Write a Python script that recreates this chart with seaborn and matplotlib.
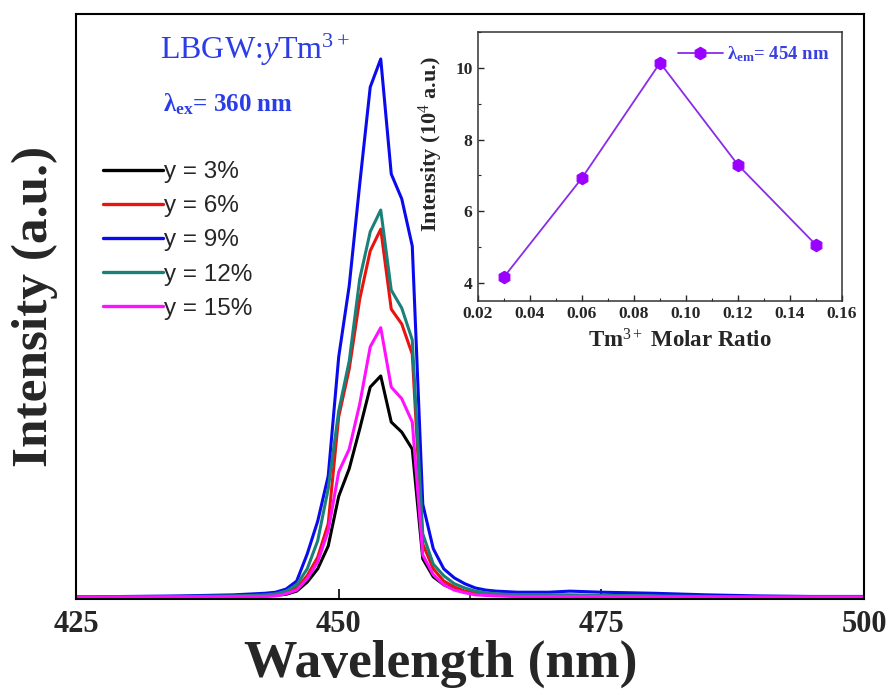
import numpy as np
import pandas as pd
import matplotlib
matplotlib.use("Agg")
import matplotlib.pyplot as plt
from matplotlib.ticker import MultipleLocator
import seaborn as sns

# ---------------- data ----------------
wavelength = [425, 430, 435, 440, 442, 443, 444, 445, 446, 447, 448, 449, 450,
              451, 452, 453, 454, 455, 456, 457, 458, 459, 460, 461, 462, 463,
              464, 465, 467, 470, 472, 475, 480, 485, 490, 495, 500]
int_3 = [0, 0, 0, 0.01, 0.01, 0.02, 0.03, 0.05, 0.11, 0.28, 0.53, 0.96, 1.90,
         2.42, 3.17, 3.96, 4.17, 3.30, 3.11, 2.79, 0.72, 0.38, 0.23, 0.15, 0.09,
         0.06, 0.04, 0.03, 0.02, 0.02, 0.02, 0.01, 0.01, 0, 0, 0, 0]
int_6 = [0, 0, 0.01, 0.01, 0.02, 0.03, 0.04, 0.08, 0.17, 0.40, 0.75, 1.38, 3.40,
         4.30, 5.62, 6.53, 6.94, 5.43, 5.15, 4.58, 1.00, 0.53, 0.30, 0.19, 0.11,
         0.08, 0.06, 0.04, 0.03, 0.03, 0.03, 0.02, 0.01, 0.01, 0, 0, 0]
int_9 = [0.0, 0.01, 0.02, 0.04, 0.06, 0.07, 0.09, 0.15, 0.30, 0.81, 1.43, 2.28, 4.53,
         5.87, 7.79, 9.62, 10.15, 7.98, 7.51, 6.62, 1.75, 0.91, 0.53, 0.36, 0.25,
         0.17, 0.13, 0.11, 0.09, 0.09, 0.11, 0.09, 0.07, 0.04, 0.02, 0.01, 0.01]
int_12 = [0, 0, 0.01, 0.02, 0.03, 0.04, 0.06, 0.11, 0.23, 0.53, 1.06, 2.04, 3.51,
          4.45, 6.00, 6.89, 7.30, 5.79, 5.45, 4.85, 1.19, 0.62, 0.40, 0.25, 0.17,
          0.11, 0.08, 0.06, 0.04, 0.04, 0.04, 0.03, 0.02, 0.01, 0, 0, 0]
int_15 = [0, 0, 0, 0.01, 0.01, 0.01, 0.02, 0.06, 0.13, 0.34, 0.66, 1.25, 2.36,
          2.79, 3.64, 4.72, 5.08, 3.96, 3.74, 3.30, 0.79, 0.42, 0.23, 0.13, 0.08,
          0.04, 0.03, 0.02, 0.01, 0.01, 0.01, 0.01, 0, 0, 0, 0, 0]
series_labels = ["y = 3%", "y = 6%", "y = 9%", "y = 12%", "y = 15%"]
series_colors = ["#000000", "#e8140f", "#0a0aee", "#1a807a", "#ff10ff"]

molar_ratio = [0.03, 0.06, 0.09, 0.12, 0.15]
peak_intensity = [4.17, 6.93, 10.14, 7.29, 5.06]

x_ticks = [425, 450, 475, 500]
inset_xticks = [0.02, 0.04, 0.06, 0.08, 0.10, 0.12, 0.14, 0.16]
inset_yticks = [4, 6, 8, 10]

# ---------------- style ----------------
sns.set_style("white")
plt.rcParams["font.family"] = ["Liberation Serif", "DejaVu Serif"]
plt.rcParams["mathtext.fontset"] = "custom"
plt.rcParams["mathtext.rm"] = "Liberation Serif"
plt.rcParams["mathtext.it"] = "Liberation Serif:italic"
plt.rcParams["mathtext.bf"] = "Liberation Serif:bold"

df = pd.concat([
    pd.DataFrame({"wavelength": wavelength, "intensity": vals, "sample": lab})
    for vals, lab in zip([int_3, int_6, int_9, int_12, int_15], series_labels)
], ignore_index=True)

fig = plt.figure(figsize=(8.89, 6.95), dpi=100)
ax = fig.add_axes([0.0855, 0.138, 0.8865, 0.842])

sns.lineplot(data=df, x="wavelength", y="intensity", hue="sample",
             hue_order=series_labels, palette=dict(zip(series_labels, series_colors)),
             linewidth=2.2, ax=ax, legend=True)

ax.set_xlim(425, 500)
ax.set_ylim(-0.04, 11.0)
ax.set_yticks([])
ax.set_xticks(x_ticks)
ax.set_xticklabels([str(t) for t in x_ticks], fontsize=22, fontweight="bold")
ax.xaxis.set_minor_locator(MultipleLocator(12.5))
ax.tick_params(axis="x", which="major", direction="in", length=7, width=1.4, pad=8,
               bottom=True, top=False)
ax.tick_params(axis="x", which="minor", direction="in", length=3.5, width=1.2,
               bottom=True, top=False)
for sp in ax.spines.values():
    sp.set_visible(True)
    sp.set_color("black")
    sp.set_linewidth(1.5)

ax.set_xlabel("Wavelength (nm)", fontsize=38.5, fontweight="bold")
ax.xaxis.set_label_coords(0.463, -0.070)
ax.set_ylabel("Intensity (a.u.)", fontsize=37, fontweight="bold")
ax.yaxis.set_label_coords(-0.023, 0.50)

handles, labels = ax.get_legend_handles_labels()
leg = ax.legend(handles, labels, loc="upper left", bbox_to_anchor=(0.022, 0.765),
                frameon=False, prop={"family": "Liberation Sans", "size": 17.5},
                handlelength=2.45, handletextpad=0.05, labelspacing=0.5,
                borderaxespad=0)
for ln in leg.get_lines():
    ln.set_linewidth(2.4)

title_color = "#2b3de8"
ax.text(0.107, 0.938, r"LBGW:$\mathit{y}$Tm$^{3+}$", transform=ax.transAxes,
        fontsize=23, color=title_color, ha="left", va="center")
ax.text(0.110, 0.845, r"λ$_{\mathbf{ex}}$= 360 nm", transform=ax.transAxes,
        fontsize=18, color=title_color, fontweight="bold", ha="left", va="center")

# ---------------- inset ----------------
ins = fig.add_axes([0.5377, 0.567, 0.4095, 0.387])
df_in = pd.DataFrame({"ratio": molar_ratio, "intensity": peak_intensity})
sns.lineplot(data=df_in, x="ratio", y="intensity", ax=ins, color="#8a2be8",
             linewidth=1.3, marker="h", markersize=9, markerfacecolor="#9a00ff",
             markeredgecolor="#9a00ff", label=r"λ$_{\mathbf{em}}$= 454 nm")
ins.set_xlim(0.02, 0.16)
ins.set_ylim(3.5, 11.0)
ins.set_xticks(inset_xticks)
ins.set_xticklabels([f"{t:.2f}" for t in inset_xticks], fontsize=12.5, fontweight="bold")
ins.set_yticks(inset_yticks)
ins.set_yticklabels([str(t) for t in inset_yticks], fontsize=12.5, fontweight="bold")
ins.xaxis.set_minor_locator(MultipleLocator(0.01))
ins.yaxis.set_minor_locator(MultipleLocator(1))
ins.tick_params(which="major", direction="in", length=4, width=1, pad=4,
                bottom=True, left=True, top=False, right=False)
ins.tick_params(which="minor", direction="in", length=2, width=0.8,
                bottom=True, left=True, top=False, right=False)
for sp in ins.spines.values():
    sp.set_visible(True)
    sp.set_color("#333333")
    sp.set_linewidth(1.1)
ins.set_xlabel(r"Tm$^{3+}$ Molar Ratio", fontsize=16.5, fontweight="bold")
ins.xaxis.set_label_coords(0.555, -0.105)
ins.set_ylabel(r"Intensity (10$^{4}$ a.u.)", fontsize=16, fontweight="bold")
ins.yaxis.set_label_coords(-0.09, 0.584)
lg = ins.legend(loc="upper right", frameon=False, handlelength=2.4,
                handletextpad=0.25, borderaxespad=0.25,
                prop={"size": 13.5, "weight": "bold"})
for t in lg.get_texts():
    t.set_color("#3a3fe0")

fig.savefig("out.png", dpi=100)
